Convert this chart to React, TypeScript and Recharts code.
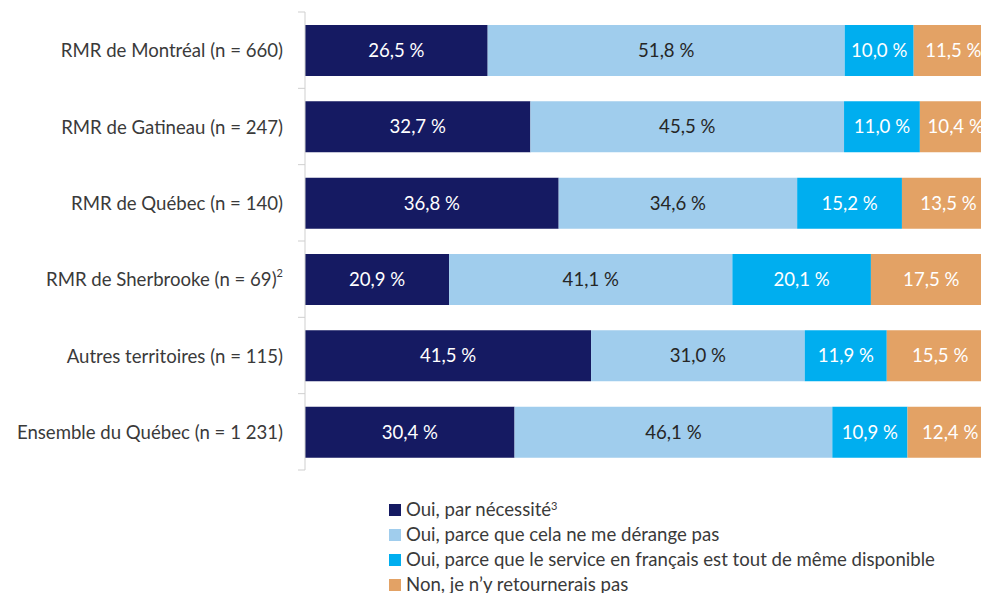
import React from "react";
import { BarChart, Bar, XAxis, YAxis, LabelList } from "recharts";

const categories = [
  "RMR de Montréal (n = 660)",
  "RMR de Gatineau (n = 247)",
  "RMR de Québec (n = 140)",
  "RMR de Sherbrooke (n = 69)",
  "Autres territoires (n = 115)",
  "Ensemble du Québec (n = 1 231)",
];
const categoryNotes = ["", "", "", "2", "", ""];

const seriesNames = [
  "Oui, par nécessité",
  "Oui, parce que cela ne me dérange pas",
  "Oui, parce que le service en français est tout de même disponible",
  "Non, je n’y retournerais pas",
];
const seriesNotes = ["3", "", "", ""];
const seriesColors = ["#151A62", "#A0CDED", "#00AEEF", "#E3A265"];
const labelColors = ["#ffffff", "#262626", "#ffffff", "#ffffff"];

const necessite = [26.5, 32.7, 36.8, 20.9, 41.5, 30.4];
const derangePas = [51.8, 45.5, 34.6, 41.1, 31.0, 46.1];
const disponible = [10.0, 11.0, 15.2, 20.1, 11.9, 10.9];
const nonRetour = [11.5, 10.4, 13.5, 17.5, 15.5, 12.4];

const keys = ["s0", "s1", "s2", "s3"];

const data = categories.map((c, i) => ({
  name: c,
  s0: necessite[i],
  s1: derangePas[i],
  s2: disponible[i],
  s3: nonRetour[i],
}));

const W = 995;
const H = 593;
const M = { top: 12, right: 0, left: 0, bottom: 123 };
const PLOT_H = H - M.top - M.bottom;
const BAND = PLOT_H / categories.length;
const AXIS_W = 305;
const FONT = "Lato, 'Noto Sans', sans-serif";
const GREY = "#cfcfcf";
const TEXT = "#3a3a3a";
const FS = 18.6;

const fmt = (v: any) => Number(v).toFixed(1).replace(".", ",") + " %";

const CategoryTick = (props: any) => {
  const { x, y, payload, index } = props;
  const note = categoryNotes[index] || "";
  const axisX = AXIS_W;
  return (
    <g>
      <line x1={axisX - 7} x2={axisX} y1={y - BAND / 2} y2={y - BAND / 2} stroke={GREY} strokeWidth={1} />
      {index === categories.length - 1 && (
        <line x1={axisX - 7} x2={axisX} y1={y + BAND / 2} y2={y + BAND / 2} stroke={GREY} strokeWidth={1} />
      )}
      <text
        x={x}
        y={y}
        textAnchor="end"
        dominantBaseline="central"
        fontFamily={FONT}
        fontSize={FS}
        fill={TEXT}
      >
        {payload.value}
        {note && (
          <tspan fontSize={11} dy={-7}>
            {note}
          </tspan>
        )}
      </text>
    </g>
  );
};

const LegendBlock = () => (
  <div
    style={{
      position: "absolute",
      left: 389,
      top: 497,
      fontFamily: FONT,
      fontSize: FS,
      color: TEXT,
      whiteSpace: "nowrap",
    }}
  >
    {seriesNames.map((n, i) => (
      <div key={n} style={{ display: "flex", alignItems: "center", height: 25, lineHeight: "25px" }}>
        <span
          style={{
            display: "inline-block",
            width: 12,
            height: 12,
            background: seriesColors[i],
            marginRight: 5,
          }}
        />
        <span>
          {n}
          {seriesNotes[i] && (
            <sup style={{ fontSize: 11, verticalAlign: "top", lineHeight: "18px" }}>{seriesNotes[i]}</sup>
          )}
        </span>
      </div>
    ))}
  </div>
);

export default function App() {
  return (
    <div style={{ position: "relative", width: 973, height: 585 }}>
      <div
        style={{
          position: "absolute",
          left: -8,
          top: -8,
          width: 989,
          height: 593,
          overflow: "hidden",
          background: "#fff",
        }}
      >
        <BarChart width={W} height={H} data={data} layout="vertical" margin={M}>
          <XAxis type="number" domain={[0, 100]} hide />
          <YAxis
            type="category"
            dataKey="name"
            width={AXIS_W}
            axisLine={{ stroke: GREY }}
            tickLine={false}
            tickSize={0}
            tickMargin={22}
            tick={<CategoryTick />}
            interval={0}
          />
          {keys.map((k, i) => (
            <Bar
              key={k}
              dataKey={k}
              name={seriesNames[i]}
              stackId="a"
              fill={seriesColors[i]}
              barSize={51}
              isAnimationActive={false}
            >
              <LabelList
                dataKey={k}
                position="center"
                formatter={fmt}
                fill={labelColors[i]}
                style={{ fontFamily: FONT, fontSize: FS, fontWeight: 400 }}
              />
            </Bar>
          ))}
        </BarChart>
        <LegendBlock />
      </div>
    </div>
  );
}
